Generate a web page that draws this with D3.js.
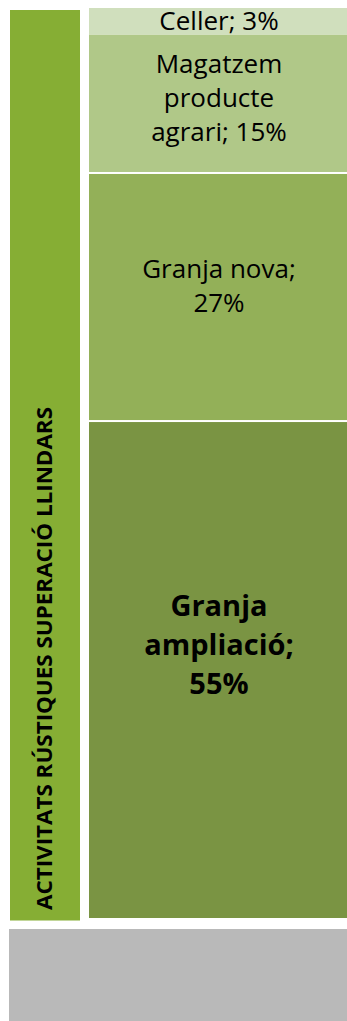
<!DOCTYPE html>
<html>
<head>
<meta charset="utf-8">
<script src="https://cdn.jsdelivr.net/npm/d3@7"></script>
<style>
  body { margin: 0; background: #fff; }
  svg { display: block; }
  text { font-family: "Open Sans", sans-serif; fill: #000; }
</style>
</head>
<body>
<svg id="chart" width="347" height="1021"></svg>
<script>
// categories from bottom to top of the stacked column
var categories = ["Granja ampliació", "Granja nova", "Magatzem producte agrari", "Celler"];
var values = [54.6, 27.2, 15.3, 2.9];
var colors = ["#7a9443", "#93b058", "#b0c888", "#d0dfbd"];
var groupLabel = "ACTIVITATS RÚSTIQUES SUPERACIÓ LLINDARS";

var svg = d3.select("#chart");

var y = d3.scaleLinear().domain([0, 100]).range([920, 8]);

// left group bar
svg.append("rect")
    .attr("x", 10)
    .attr("y", 10)
    .attr("width", 70)
    .attr("height", 910.5)
    .attr("fill", "#86ae34");

svg.append("text")
    .attr("transform", "translate(52,910) rotate(-90)")
    .attr("font-weight", "bold")
    .attr("font-size", 22)
    .attr("textLength", 503)
    .attr("lengthAdjust", "spacingAndGlyphs")
    .text(groupLabel);

// stacked segments
var data = [];
var acc = 0;
categories.forEach(function(c, i) {
    data.push({ name: c, value: values[i], y0: acc, y1: acc + values[i], color: colors[i], big: i == 0 });
    acc += values[i];
});

var seg = svg.append("g").selectAll("g")
    .data(data)
    .enter().append("g");

seg.append("rect")
    .attr("x", 89)
    .attr("width", 260)
    .attr("y", function(d) { return y(d.y1); })
    .attr("height", function(d) { return y(d.y0) - y(d.y1) - (d.y1 >= 99.9 ? 0 : 2); })
    .attr("fill", function(d) { return d.color; });

seg.each(function(d) {
    var g = d3.select(this);
    var words = (d.name + "; " + Math.round(d.value) + "%").split(" ");
    var size = d.big ? 29 : 26;
    var lh = d.big ? 39 : 34;
    var t = g.append("text")
        .attr("text-anchor", "middle")
        .attr("font-size", size)
        .attr("font-weight", d.big ? "bold" : "normal");
    var lines = [];
    var cur = [];
    words.forEach(function(w) {
        var test = cur.concat([w]).join(" ");
        t.text(test);
        if (cur.length && t.node().getComputedTextLength() > 165) {
            lines.push(cur.join(" "));
            cur = [w];
        } else {
            cur.push(w);
        }
    });
    lines.push(cur.join(" "));
    t.text(null);
    var top = y(d.y1), h = y(d.y0) - y(d.y1);
    var cy = top + h * 0.448;
    var first = cy + 10 - (lines.length - 1) * lh / 2;
    lines.forEach(function(l, i) {
        t.append("tspan")
            .attr("x", 89 + 130)
            .attr("y", first + i * lh)
            .text(l);
    });
});

// grey strip under the chart
svg.append("rect")
    .attr("x", 9)
    .attr("y", 929)
    .attr("width", 338)
    .attr("height", 92)
    .attr("fill", "#b9b9b9");
</script>
</body>
</html>
